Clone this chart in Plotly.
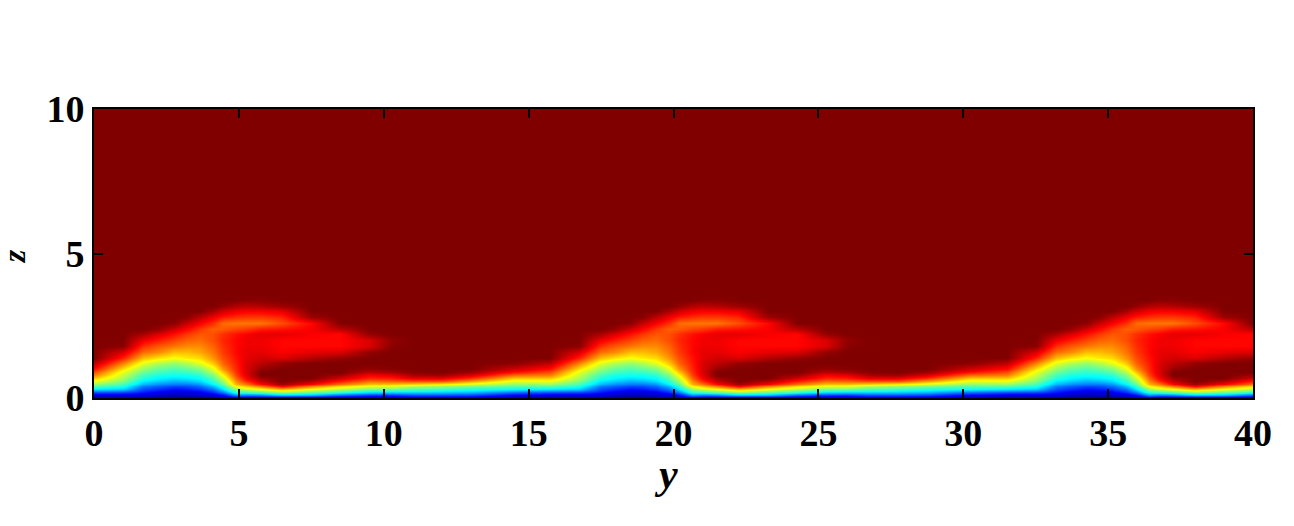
import plotly.graph_objects as go

# z levels of the table, y phases of one wave (the picture repeats every 15.75)
z_levels = [0, .05, .1, .2, .3, .4, .5, .6, .7, .8, .9, 1, 1.2, 1.4, 1.6, 1.8, 2, 2.2,
            2.4, 2.6, 2.8, 3, 3.2, 3.4, 3.6, 3.8, 10]
wave_phases = [0, 1, 1.7, 2.2, 2.75, 3.2, 3.65, 4.1, 4.45, 4.9, 5.25, 5.75, 6.5, 7.5, 8.5,
               9.5, 10.25, 11, 12, 13, 14.5]
wave_starts = [0, 15.75, 31.5]

# one list per phase, bottom up, in percent of the colour range.
# anything above the end of a list is the flat top value
wave_columns = [
    [0, 4, 9, 21, 36, 46, 53, 61, 68, 75, 80, 86, 94],
    [0, 4, 9, 20, 33, 40, 45, 50, 54, 57, 60, 65, 75, 84, 91, 99],
    [0, 4, 8, 15, 20, 25, 31, 36, 41, 44, 48, 52, 60, 69, 77, 83, 89, 96],
    [0, 3, 6, 11, 17, 22, 27, 33, 37, 40, 44, 47, 55, 65, 74, 79, 85, 91, 98],
    [0, 2, 4, 9, 14, 19, 25, 30, 35, 39, 42, 45, 52, 62, 69, 76, 81, 86, 92, 99],
    [0, 2, 5, 9, 15, 20, 25, 31, 36, 39, 43, 47, 55, 64, 69, 74, 78, 82, 87, 93, 99],
    [0, 3, 6, 11, 18, 23, 28, 34, 38, 42, 46, 50, 60, 66, 71, 74, 77, 79, 82, 88, 94],
    [0, 4, 8, 17, 24, 31, 37, 42, 46, 50, 55, 60, 68, 73, 76, 78, 80, 80, 78, 83, 89, 96],
    [0, 6, 13, 25, 35, 42, 48, 53, 58, 63, 68, 73, 78, 80, 82, 83, 84, 83, 79, 77, 85, 92, 98],
    [0, 13, 26, 42, 52, 63, 70, 74, 78, 81, 83, 84, 85, 86, 87, 87, 87, 86, 81, 76, 83, 89, 95],
    [0, 10, 24, 43, 58, 68, 76, 83, 88, 90, 91, 91, 91, 90, 90, 89, 89, 88, 82, 76, 82, 88, 94, 99],
    [0, 10, 25, 47, 62, 76, 87, 93, 97, 100, 100, 98, 94, 92, 90, 89, 89, 90, 85, 76, 82, 88, 95, 99],
    [0, 12, 32, 53, 70, 88, 97, 100, 100, 100, 100, 100, 98, 91, 88, 87, 87, 90, 86, 80, 84, 90, 97],
    [0, 11, 30, 48, 62, 75, 88, 95, 100, 100, 100, 100, 100, 95, 90, 87, 87, 88, 88, 87, 97],
    [0, 9, 22, 42, 56, 66, 77, 85, 92, 97, 100, 100, 100, 98, 91, 87, 87, 87, 94],
    [0, 8, 18, 35, 50, 60, 69, 77, 84, 88, 94, 98, 100, 100, 98, 91, 91, 98],
    [0, 8, 17, 34, 49, 60, 69, 78, 85, 90, 96, 99, 100, 100, 100, 99, 98],
    [0, 10, 20, 34, 46, 55, 67, 80, 90, 96, 99],
    [0, 10, 20, 33, 44, 52, 64, 80, 90, 97],
    [0, 10, 19, 31, 41, 49, 60, 72, 83, 91, 97],
    [0, 6, 12, 24, 38, 46, 52, 60, 68, 77, 86, 92, 99],
]
x_ticks = [0, 5, 10, 15, 20, 25, 30, 35, 40]
y_ticks = [0, 5, 10]

jet = [[0, "rgb(0,0,135)"], [0.125, "rgb(0,0,255)"], [0.375, "rgb(0,255,255)"],
       [0.625, "rgb(255,255,0)"], [0.875, "rgb(255,0,0)"], [1, "rgb(128,0,0)"]]

y_values = []
columns = []
for start in wave_starts:
    for phase, col in zip(wave_phases, wave_columns):
        if start + phase <= 41:
            y_values.append(start + phase)
            columns.append(col + [100] * (len(z_levels) - len(col)))
z_table = [list(row) for row in zip(*columns)]

fig = go.Figure(go.Heatmap(x=y_values, y=z_levels, z=z_table, colorscale=jet, zmin=0, zmax=100,
                           zsmooth="best", showscale=False))

tick_font = dict(family="Liberation Serif", size=38, color="black", weight="bold")
axis_style = dict(showline=True, linecolor="black", linewidth=2, mirror="ticks", ticks="inside",
                  ticklen=9, tickwidth=1.5, tickcolor="black", showgrid=False, zeroline=False,
                  tickfont=tick_font)
fig.update_xaxes(range=[0, 40], tickvals=x_ticks, ticktext=[str(t) for t in x_ticks], **axis_style)
fig.update_yaxes(range=[0, 10], tickvals=y_ticks, ticktext=[str(t) for t in y_ticks], **axis_style)

fig.add_annotation(text="y", xref="paper", yref="paper", x=0.4933, y=-0.262, showarrow=False,
                   xanchor="center", yanchor="middle",
                   font=dict(family="Liberation Serif", size=42, color="black", weight="bold", style="italic"))
fig.add_annotation(text="z", xref="paper", yref="paper", x=-0.0691, y=0.49, showarrow=False,
                   xanchor="center", yanchor="middle", textangle=-90,
                   font=dict(family="Liberation Serif", size=32, color="black", weight="bold", style="italic"))

# the page adds 8 px round the figure, so the frame is placed 8 px up and left
fig.update_layout(width=1294, height=526, margin=dict(l=86, r=49, t=101, b=136),
                  paper_bgcolor="white", plot_bgcolor="white")
fig.write_html("out.html")
